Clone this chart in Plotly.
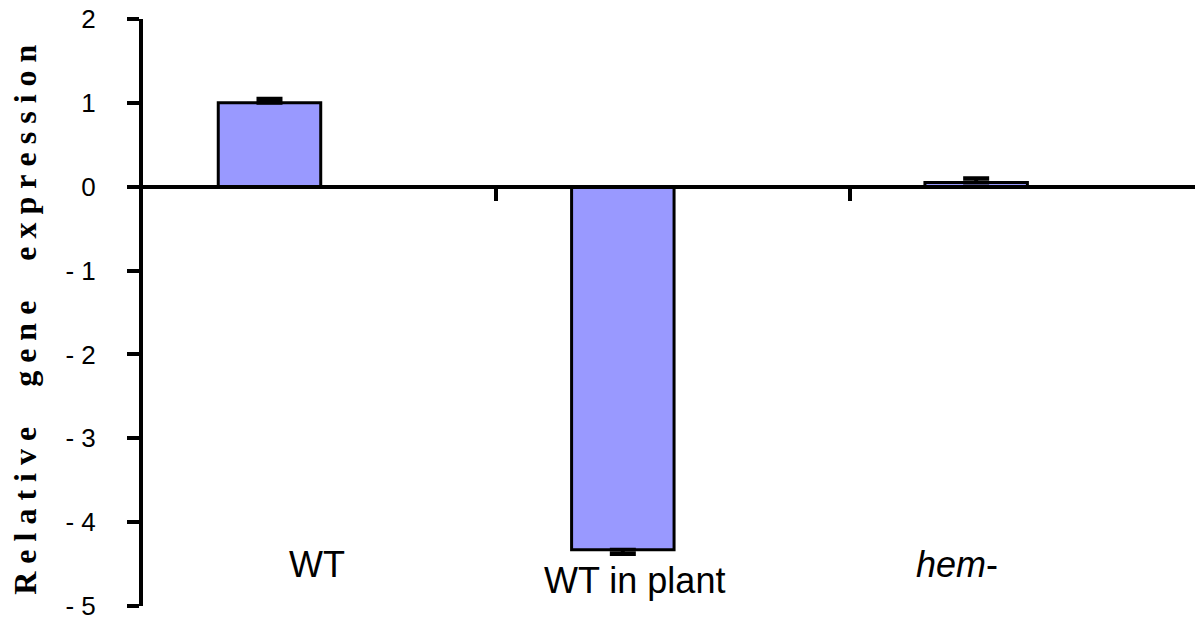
import plotly.graph_objects as go

categories = ["WT", "WT in plant", "<i>hem</i>-"]
values = [1.0, -4.33, 0.05]
err_plus = [0.05, 0.0, 0.05]
err_minus = [0.0, 0.05, 0.0]
y_tickvals = [2, 1, 0, -1, -2, -3, -4, -5]
y_ticktext = ["2", "1", "0", "- 1", "- 2", "- 3", "- 4", "- 5"]

y_range = [-5, 2]
offset = 0.358
bar_w = 0.29
xpos = [i + offset for i in range(len(categories))]

fig = go.Figure()
fig.add_trace(go.Bar(
    x=xpos, y=values, width=bar_w,
    marker=dict(color="#9999FF", line=dict(color="black", width=3)),
    error_y=dict(type="data", symmetric=False, array=err_plus, arrayminus=err_minus,
                 color="black", thickness=4, width=13),
    showlegend=False,
))

title_txt = "\u00a0\u00a0\u00a0\u00a0\u00a0".join(
    "\u00a0".join(list(w)) for w in ["Relative", "gene", "expression"])

label_font = dict(family="Liberation Sans, Arial, sans-serif", size=36, color="black")
label_pos = [(0.493, -4.51), (1.391, -4.69), (2.303, -4.51)]
annotations = [
    dict(x=px, y=py, xref="x", yref="y", text=t, showarrow=False, font=label_font,
         xanchor="center", yanchor="middle")
    for t, (px, py) in zip(categories, label_pos)
]
annotations.append(dict(
    x=-0.112, y=0.488, xref="paper", yref="paper", text="<b>" + title_txt + "</b>",
    textangle=-90, showarrow=False,
    font=dict(family="Liberation Serif, Times New Roman, serif", size=32, color="black"),
    xanchor="center", yanchor="middle"))

fig.update_layout(
    width=1195, height=609,
    margin=dict(l=135, r=0, t=11, b=11),
    paper_bgcolor="white", plot_bgcolor="white",
    xaxis=dict(range=[0, 3.0], showgrid=False, zeroline=False, automargin=False,
               anchor="free", position=(0 - y_range[0]) / (y_range[1] - y_range[0]),
               showline=True, linecolor="black", linewidth=4,
               ticks="outside", ticklen=12, tickwidth=4, tickcolor="black",
               tickvals=[1, 2], showticklabels=False),
    yaxis=dict(range=y_range, showgrid=False, zeroline=False, automargin=False,
               showline=True, linecolor="black", linewidth=4,
               ticks="outside", ticklen=12, tickwidth=4, tickcolor="black",
               tickvals=y_tickvals, ticktext=y_ticktext,
               ticklabelstandoff=26, ticklabeloverflow="allow",
               tickfont=dict(family="Liberation Sans, Arial, sans-serif", size=26, color="black")),
    annotations=annotations,
)

fig.write_html("out.html")
